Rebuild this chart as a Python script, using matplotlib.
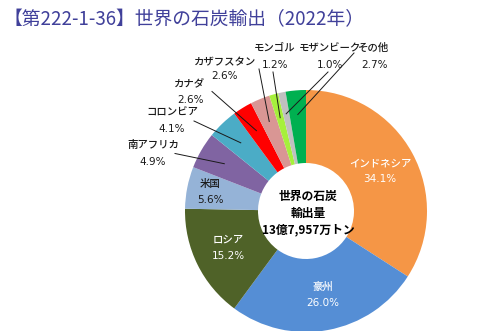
import numpy as np
import matplotlib
matplotlib.use("Agg")
import matplotlib.pyplot as plt

plt.rcParams['font.family'] = ['Noto Sans CJK JP', 'DejaVu Sans']

# 世界の石炭輸出 2022年 国別シェア(%)
paises = ['インドネシア', '豪州', 'ロシア', '米国', '南アフリカ', 'コロンビア',
          'カナダ', 'カザフスタン', 'モンゴル', 'モザンビーク', 'その他']
shares = [34.1, 26.0, 15.2, 5.6, 4.9, 4.1, 2.6, 2.6, 1.2, 1.0, 2.7]
colores = ['#F59646', '#558ED5', '#4F6228', '#95B3D7', '#8064A2', '#4BACC6',
           '#FF0000', '#D99694', '#A6F03C', '#C0C0C0', '#00B050']
total_label = '13億7,957万トン'

W, H = 500, 331
fig = plt.figure(figsize=(W / 100, H / 100), dpi=100)
ax = fig.add_axes([0, 0, 1, 1])

cx, cy, r = 306, H - 211, 121
hueco = 48
wedges, _ = ax.pie(shares, colors=colores, startangle=90, counterclock=False,
                   center=(cx, cy), radius=r, frame=True,
                   wedgeprops=dict(width=r - hueco, linewidth=0))
ax.set_xlim(0, W)
ax.set_ylim(0, H)
ax.set_aspect('equal')
ax.axis('off')

num_font = ['Liberation Sans Narrow', 'DejaVu Sans']

# etiquetas dentro de los sectores grandes: (x, y, color)
dentro = {
    0: (380, 171, 'white'),
    1: (323, 295, 'white'),
    2: (228, 248, 'white'),
    3: (210, 192, '#1a1a1a'),
}
for i, (x, y, c) in dentro.items():
    ax.text(x, H - y + 8, paises[i], ha='center', va='center', fontsize=7.5,
            color=c, fontweight='medium')
    ax.text(x, H - y - 8, f'{shares[i]:.1f}%', ha='center', va='center',
            fontsize=7.5, color=c, family=num_font)

# etiquetas fuera con línea guía: (x texto, y nombre, y porcentaje, radio relativo del punto)
fuera = {
    4: (153, 145, 162, 0.78),
    5: (172, 113, 129, 0.78),
    6: (190, 83, 100, 0.78),
    7: (225, 62, 76, 0.80),
    8: (275, 48, 65, 0.80),
    9: (330, 48, 65, 0.82),
    10: (374, 48, 65, 0.80),
}
acum = np.cumsum([0] + shares)
for i, (x, yn, yp, fr) in fuera.items():
    mid = 90 - 360 * (acum[i] + acum[i + 1]) / 2 / 100
    px = cx + r * fr * np.cos(np.radians(mid))
    py = cy + r * fr * np.sin(np.radians(mid))
    ax.text(x, H - yn, paises[i], ha='center', va='center', fontsize=7.5,
            color='#1a1a1a', fontweight='medium')
    ax.text(x, H - yp, f'{shares[i]:.1f}%', ha='center', va='center',
            fontsize=7.5, color='#1a1a1a', family=num_font)
    if i in (4, 5, 6):
        sx, sy = x + 22, H - (yn + yp) / 2
    elif i == 7:
        sx, sy = x + 34, H - yp + 7
    elif i in (8, 9):
        sx, sy = x - 2, H - yp - 7
    else:
        sx, sy = x - 20, H - yn - 5
    ax.plot([sx, px], [sy, py], color='#1a1a1a', linewidth=0.7)

ax.text(cx + 2, H - 213, '世界の石炭\n輸出量\n' + total_label, ha='center', va='center',
        fontsize=8.5, fontweight='bold', color='black', linespacing=1.35)

ax.text(4, H - 20, '【第222-1-36】世界の石炭輸出（2022年）', ha='left', va='center',
        fontsize=13.5, color='#40409A')

fig.savefig('out.png', dpi=100)
